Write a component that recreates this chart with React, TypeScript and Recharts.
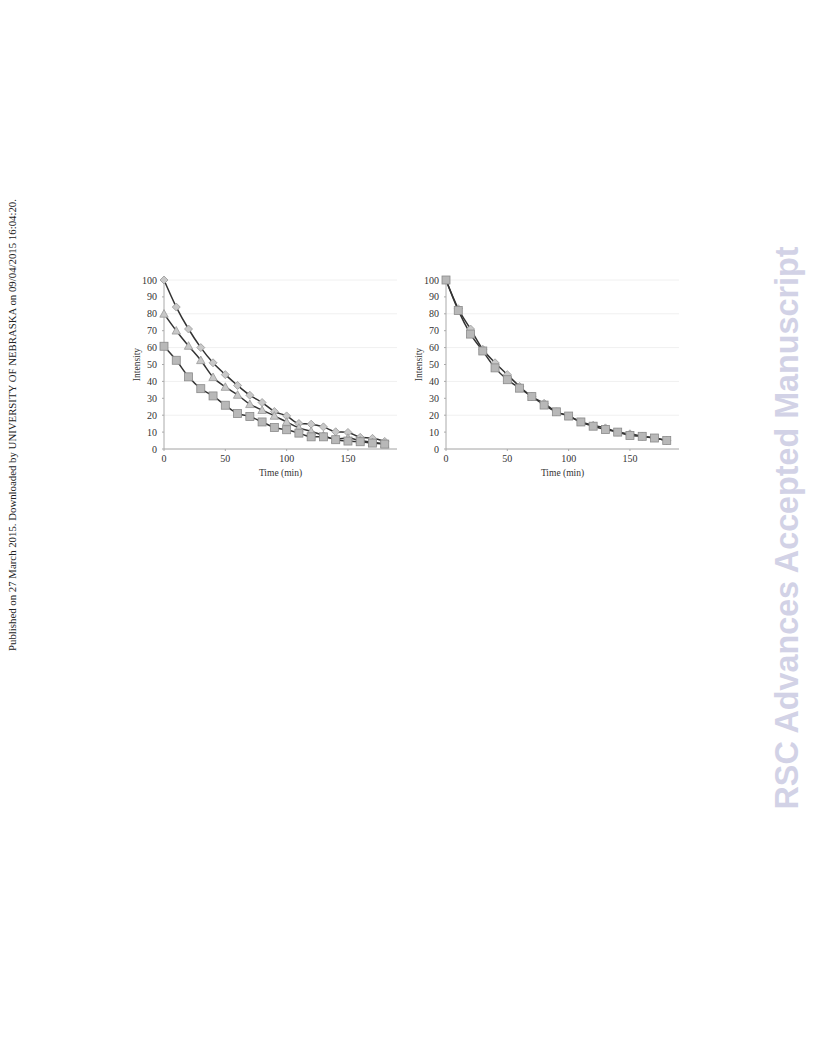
import React from 'react'
import { LineChart, Line, XAxis, YAxis, CartesianGrid } from 'recharts'

const times = [0, 10, 20, 30, 40, 50, 60, 70, 80, 90, 100, 110, 120, 130, 140, 150, 160, 170, 180]

// left panel
const leftDiamond = [100, 84, 71, 60, 51, 44, 37.6, 31.8, 27.5, 22.2, 19.6, 15.1, 14.7, 13.1, 10.2, 9.8, 6.9, 6.3, 4.5]
const leftTriangle = [80, 70, 61, 52.5, 42.5, 36.7, 32, 26.5, 23, 19.6, 16, 12.5, 10.5, 8, 5.8, 6.5, 5, 4, 3]
const leftSquare = [60.8, 52.5, 42.7, 35.7, 31.4, 25.9, 21, 19.2, 16, 12.7, 11.4, 9.4, 7.2, 7.2, 5.5, 4.7, 4.3, 3.5, 2.9]

// right panel
const rightDiamond = [100, 83, 71, 59, 51, 44, 37, 31, 27, 22, 19.5, 16, 14, 12.5, 10, 9, 7.5, 6.5, 5]
const rightSquare = [100, 82, 68, 58, 48, 41, 36, 31, 26, 22, 19.5, 16, 13.5, 11.5, 10, 8, 7.5, 6.5, 5]

const yTicks = [0, 10, 20, 30, 40, 50, 60, 70, 80, 90, 100]
const xTicks = [0, 50, 100, 150]

const leftData = times.map((t, i) => ({ t, a: leftDiamond[i], b: leftTriangle[i], c: leftSquare[i] }))
const rightData = times.map((t, i) => ({ t, a: rightDiamond[i], c: rightSquare[i] }))

const font = '"Liberation Serif", "Times New Roman", serif'
const tick = { fontSize: 10, fill: '#333', fontFamily: font }

const Diamond = (p: any) => {
  const { cx, cy, index } = p
  const r = 4
  return <path key={`d${index}`} d={`M${cx},${cy - r}L${cx + r},${cy}L${cx},${cy + r}L${cx - r},${cy}Z`} fill="#c8c8c8" stroke="#999" strokeWidth={0.8} />
}
const Triangle = (p: any) => {
  const { cx, cy, index } = p
  const r = 4.2
  return <path key={`t${index}`} d={`M${cx},${cy - r}L${cx + r},${cy + r * 0.8}L${cx - r},${cy + r * 0.8}Z`} fill="#c8c8c8" stroke="#999" strokeWidth={0.8} />
}
const Square = (p: any) => {
  const { cx, cy, index } = p
  const s = 8
  return <rect key={`s${index}`} x={cx - s / 2} y={cy - s / 2} width={s} height={s} fill="#b8b8b8" stroke="#8a8a8a" strokeWidth={0.8} />
}

function Panel({ data, left, three }: { data: any[]; left: number; three?: boolean }) {
  return (
    <div style={{ position: 'absolute', left, top: 265 }}>
      <LineChart width={282} height={230} data={data} margin={{ top: 15, right: 5, bottom: 16, left: 14 }}>
        <CartesianGrid horizontal vertical={false} stroke="#f0f0f0" />
        <XAxis
          dataKey="t"
          type="number"
          domain={[0, 190]}
          ticks={xTicks}
          tick={tick}
          stroke="#aaa"
          tickSize={2}
          tickMargin={4}
          height={30}
          label={{ value: 'Time (min)', position: 'insideBottom', offset: 3, style: { fontSize: 9.5, fill: '#333', fontFamily: font } }}
        />
        <YAxis
          domain={[0, 100]}
          ticks={yTicks}
          tick={tick}
          stroke="#aaa"
          tickSize={2}
          tickMargin={5}
          width={30}
          label={{ value: 'Intensity', angle: -90, position: 'insideLeft', offset: 3, style: { fontSize: 9.5, fill: '#333', fontFamily: font, textAnchor: 'middle' } }}
        />
        <Line dataKey="a" type="monotone" stroke="#333" strokeWidth={1.5} dot={Diamond} isAnimationActive={false} />
        {three && <Line dataKey="b" type="monotone" stroke="#333" strokeWidth={1.5} dot={Triangle} isAnimationActive={false} />}
        <Line dataKey="c" type="monotone" stroke="#333" strokeWidth={1.5} dot={Square} isAnimationActive={false} />
      </LineChart>
    </div>
  )
}

export default function App() {
  return (
    <div style={{ position: 'absolute', left: 0, top: 0, width: 816, height: 1056, background: '#fff', overflow: 'hidden' }}>
      <div
        style={{
          position: 'absolute', left: 12, top: 425, transform: 'translate(-50%, -50%) rotate(-90deg)',
          whiteSpace: 'nowrap', fontFamily: font, fontSize: 10.8, color: '#222',
        }}
      >
        Published on 27 March 2015. Downloaded by UNIVERSITY OF NEBRASKA on 09/04/2015 16:04:20.
      </div>
      <div
        style={{
          position: 'absolute', left: 787, top: 528, transform: 'translate(-50%, -50%) rotate(-90deg)',
          whiteSpace: 'nowrap', fontFamily: '"Liberation Sans", Arial, sans-serif', fontWeight: 'bold', fontSize: 32.3, color: '#d2d2e6',
        }}
      >
        RSC Advances Accepted Manuscript
      </div>
      <Panel data={leftData} left={120} three />
      <Panel data={rightData} left={402} />
    </div>
  )
}
